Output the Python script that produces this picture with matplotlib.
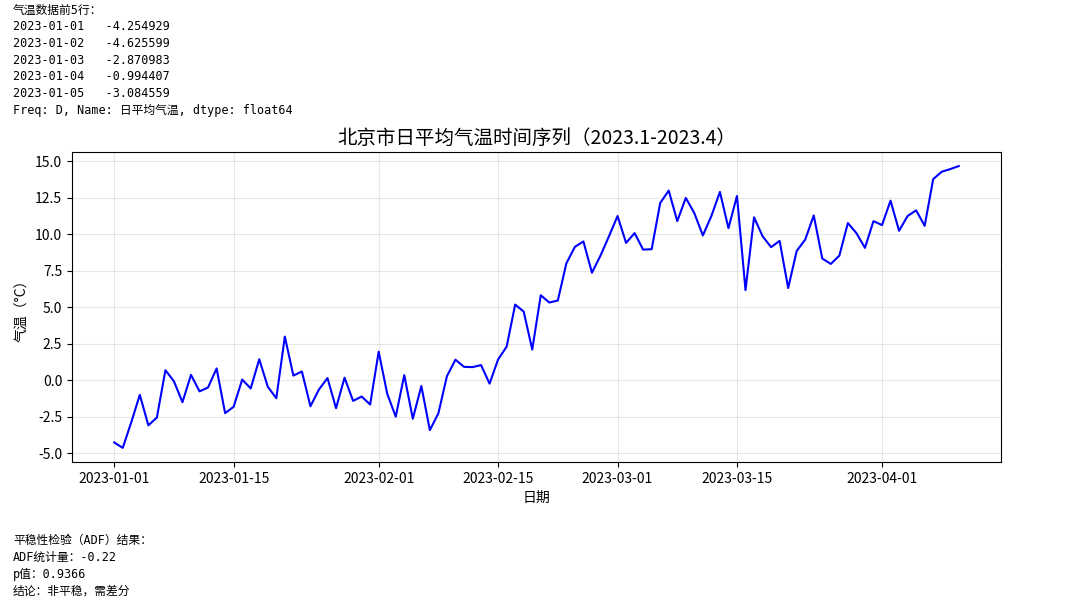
import numpy as np
import pandas as pd
import matplotlib
matplotlib.use('Agg')
import matplotlib.pyplot as plt

plt.rcParams['font.family'] = ['Noto Sans CJK SC', 'DejaVu Sans']
plt.rcParams['axes.unicode_minus'] = False

# 日平均气温 (2023-01-01 起, 每日)
start_date = '2023-01-01'
temps = [
    -4.254929, -4.625599, -2.870983, -0.994407, -3.084559,
    -2.55, 0.69, -0.07, -1.50, 0.37, -0.76, -0.49, 0.81, -2.25, -1.81,
    0.05, -0.56, 1.44, -0.44, -1.23, 2.99, 0.32, 0.60, -1.78, -0.63,
    0.15, -1.91, 0.18, -1.41, -1.11, -1.66, 1.96, -0.92, -2.49, 0.35,
    -2.63, -0.39, -3.41, -2.26, 0.28, 1.41, 0.92, 0.90, 1.04, -0.23,
    1.43, 2.30, 5.18, 4.70, 2.10, 5.82, 5.32, 5.46, 8.00, 9.13,
    9.50, 7.36, 8.53, 9.86, 11.24, 9.40, 10.07, 8.94, 8.97, 12.13,
    12.98, 10.89, 12.48, 11.44, 9.91, 11.24, 12.89, 10.41, 12.61, 6.17,
    11.15, 9.86, 9.11, 9.54, 6.31, 8.85, 9.63, 11.28, 8.33, 7.96,
    8.53, 10.76, 10.07, 9.06, 10.89, 10.62, 12.29, 10.23, 11.24, 11.63,
    10.57, 13.76, 14.27, 14.45, 14.66,
]
dates = pd.date_range(start_date, periods=len(temps), freq='D')

adf_stat = -0.22
p_value = 0.9366

fig = plt.figure(figsize=(10.81, 6.02), dpi=100)
ax = fig.add_axes([0.0666, 0.2326, 0.8594, 0.515])

ax.plot(dates, temps, color='blue', linewidth=1.5)
ax.set_title('北京市日平均气温时间序列（2023.1-2023.4）', fontsize=14)
ax.set_xlabel('日期', fontsize=10)
ax.set_ylabel('气温（°C）', fontsize=10)
ax.grid(True, alpha=0.3)
ax.tick_params(labelsize=10)

# printed console output around the figure
mono = ['DejaVu Sans Mono', 'Noto Sans CJK SC']
head = ['气温数据前5行：']
for d, v in zip(dates[:5], temps[:5]):
    head.append(f"{d.strftime('%Y-%m-%d')}   {v:.6f}")
head.append('Freq: D, Name: 日平均气温, dtype: float64')
for i, line in enumerate(head):
    fig.text(13 / 1081, 1 - (10 + i * 16.75) / 602, line, family=mono,
             fontsize=8.5, va='center', ha='left')

tail = ['平稳性检验（ADF）结果：',
        f'ADF统计量：{adf_stat:.2f}',
        f'p值：{p_value:.4f}',
        '结论：非平稳，需差分']
for i, line in enumerate(tail):
    fig.text(13 / 1081, 1 - (540 + i * 17) / 602, line, family=mono,
             fontsize=8.5, va='center', ha='left')

fig.savefig('out.png', dpi=100)
